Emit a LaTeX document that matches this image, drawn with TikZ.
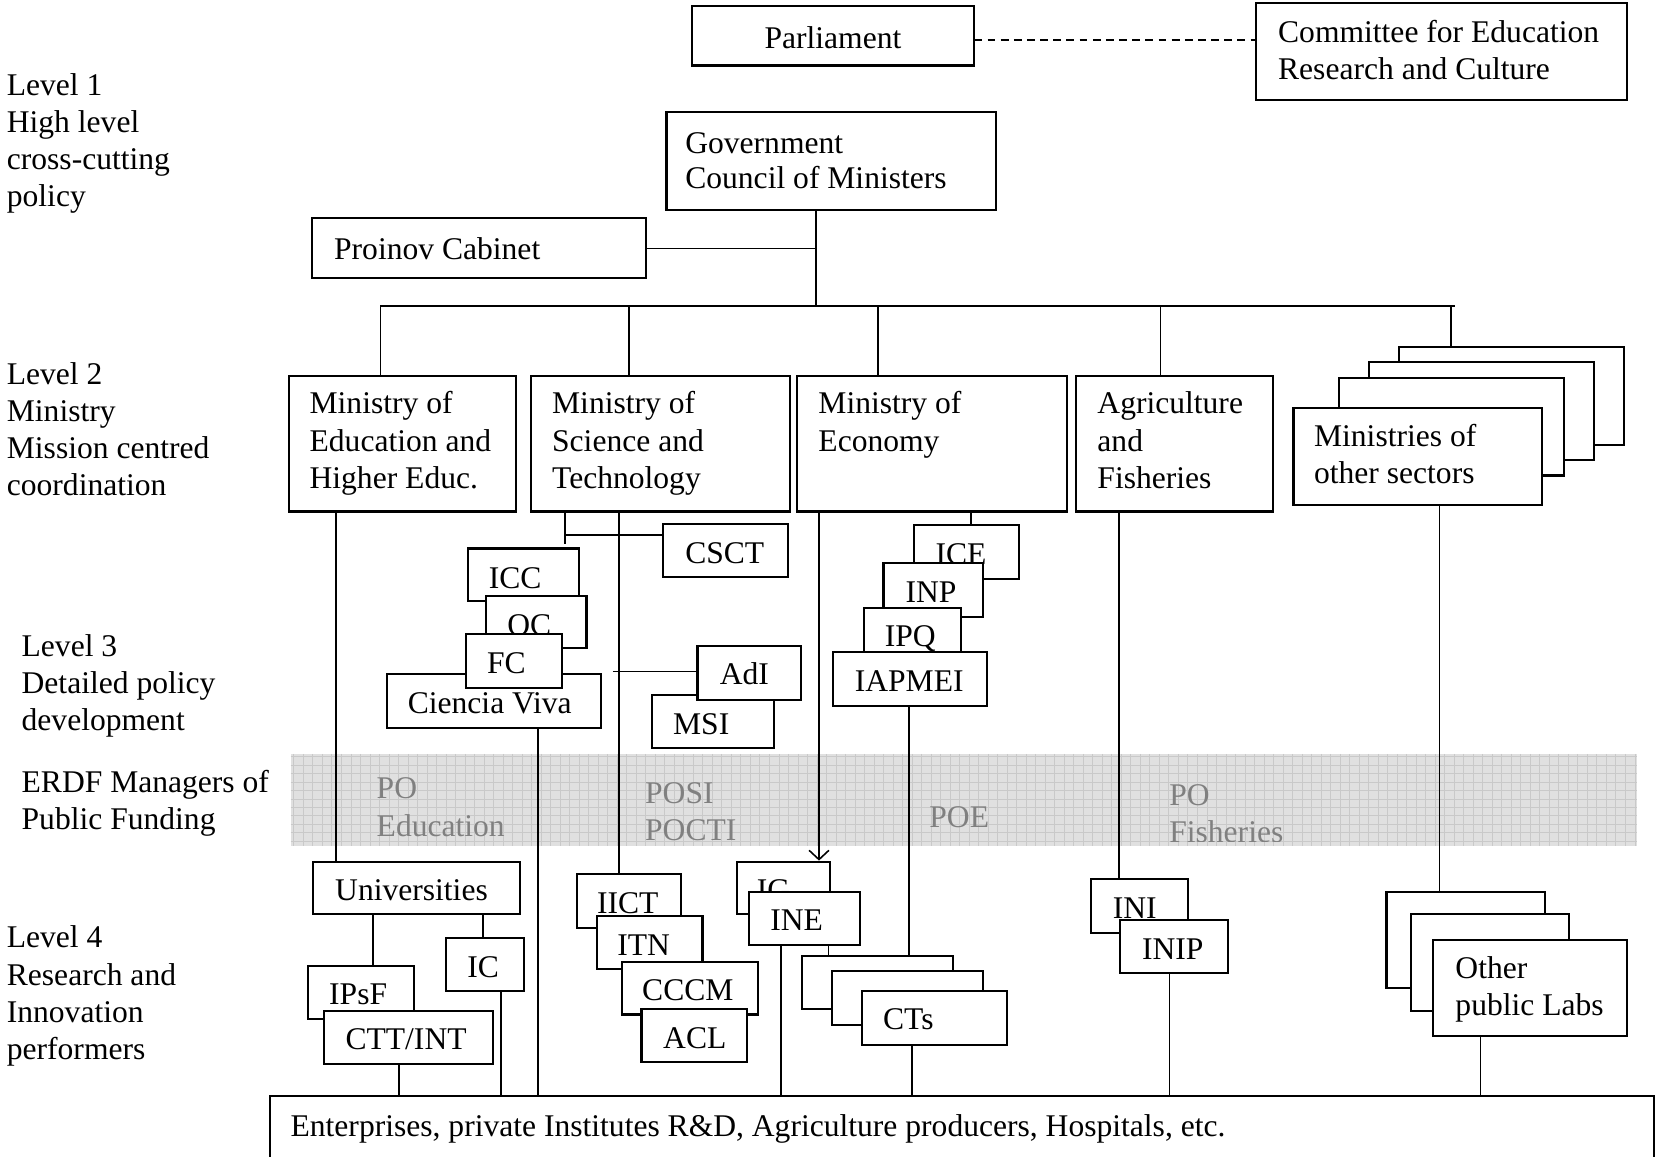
\documentclass[tikz,border=0pt]{standalone}
\usepackage{fontspec}
\setmainfont{Liberation Serif}
\usetikzlibrary{fit,arrows.meta}
\newcommand\mybox[5]{\node[box, fit={(#2,#3) (#4,#5)}] (#1) {};}
\newcommand\mytext[4]{\node[txt] (#1-t) at (#2,#3) {\mlines{#4}};}
\newcommand\mlines[1]{\begin{tabular}[t]{@{}l@{}}#1\end{tabular}}
\begin{document}
\begin{tikzpicture}[x=0.4016pt,y=-0.4016pt,
  box/.style={draw, fill=white, line width=0.8pt, inner sep=0pt},
  txt/.style={inner sep=0pt, anchor=base west, font=\fontsize{12}{14.1}\selectfont},
  tight/.style={font=\fontsize{12}{13.5}\selectfont},
  bandtxt/.style={txt, text=black!50},
  conn/.style={line width=0.6pt},
]
\clip (0,0) rectangle (1568,1094);
\fill[white] (0,0) rectangle (1568,1094);

% ---------- level labels ----------
\node[txt] (L1) at (6,90) {\mlines{Level 1\\High level\\cross-cutting\\policy}};
\node[txt] (L2) at (6,364) {\mlines{Level 2\\Ministry\\Mission centred\\coordination}};
\node[txt] (L3) at (20,621) {\mlines{Level 3\\Detailed policy\\development}};
\node[txt] (LE) at (20,750) {\mlines{ERDF Managers of\\Public Funding}};
\node[txt] (L4) at (6,897) {\mlines{Level 4\\Research and\\Innovation\\performers}};

% ---------- ERDF band ----------
\fill[black!12] (275,713.5) rectangle (1549,800.5);
\foreach \gx in {278,287,...,1548} \draw[black!21, line width=0.25pt] (\gx,713.5) -- (\gx,800.5);
\foreach \gy in {716,724,...,800} \draw[black!21, line width=0.25pt] (275,\gy) -- (1549,\gy);
\begin{scope}
\clip (275,713.5) rectangle (1549,796);
\node[bandtxt] (B1) at (356,756) {\mlines{PO\\Education}};
\node[bandtxt] (B2) at (610,760) {\mlines{POSI\\POCTI}};
\node[bandtxt] (B3) at (879,783) {POE};
\node[bandtxt] (B4) at (1106,762) {\mlines{PO\\Fisheries}};
\end{scope}

% ---------- level 1 ----------
\mybox{Parl}{655}{5.7}{922}{62} \mytext{Parl}{723}{45.7}{Parliament}
\mybox{Comm}{1188.6}{2.5}{1539.5}{94.6}
\mytext{Comm}{1209}{40}{Committee for Education\\Research and Culture}
\mybox{Gov}{630.7}{105.7}{942.5}{198.7}
\node[txt, tight] (Gov-t) at (648,145) {\mlines{Government\\Council of Ministers}};
\mybox{Pro}{295.3}{206.6}{611}{263.4} \mytext{Pro}{315.7}{246}{Proinov Cabinet}

% ---------- level 2 ----------
\mybox{MinEdu}{273.5}{355.5}{488}{484} \mytext{MinEdu}{292.5}{391.7}{Ministry of\\Education and\\Higher Educ.}
\mybox{MinSci}{502.5}{355.5}{747.3}{484} \mytext{MinSci}{522}{391.7}{Ministry of\\Science and\\Technology}
\mybox{MinEco}{754}{355.5}{1009.4}{484} \mytext{MinEco}{774}{391.7}{Ministry of\\Economy}
\mybox{MinAgr}{1018}{355.5}{1205}{484} \mytext{MinAgr}{1038}{391.7}{Agriculture\\and\\Fisheries}
\mybox{Oth4}{1324}{328.4}{1536.8}{421}
\mybox{Oth3}{1295.4}{342.8}{1508}{435.3}
\mybox{Oth2}{1267}{357.4}{1480}{450}
\mybox{Oth1}{1224}{386}{1459}{478} \mytext{Oth1}{1243}{422.7}{Ministries of\\other sectors}

% ---------- level 3 ----------
\mybox{CSCT}{627}{496}{746}{546} \mytext{CSCT}{648}{533}{CSCT}
\mybox{ICC}{443}{519}{548}{569} \mytext{ICC}{462}{556.7}{ICC}
\mybox{OC}{460}{564}{555}{613} \mytext{OC}{479.5}{600.9}{OC}
\mybox{CV}{366}{637.5}{568.7}{688.6} \mytext{CV}{385.4}{675}{Ciencia Viva}
\mybox{FC}{441}{600}{532}{651} \mytext{FC}{460.5}{637}{FC}
\mybox{MSI}{617}{658}{732}{708} \mytext{MSI}{636.5}{694.9}{MSI}
\mybox{AdI}{660}{611}{758}{662} \mytext{AdI}{680.7}{648.2}{AdI}
\mybox{ICE}{865}{497}{964}{548} \mytext{ICE}{884.8}{534.6}{ICE}
\mybox{INP}{836}{533}{930}{584} \mytext{INP}{856.4}{570.3}{INP}
\mybox{IPQ}{817.6}{575}{909}{617} \mytext{IPQ}{836.8}{611.9}{IPQ}
\mybox{IAPMEI}{788}{617}{934}{668} \mytext{IAPMEI}{808.4}{654.5}{IAPMEI}

% ---------- level 4 ----------
\mybox{Univ}{296.5}{815.4}{492}{865.2} \mytext{Univ}{316.7}{852.3}{Universities}
\mybox{IPsF}{291.4}{913.8}{391.8}{964.3} \mytext{IPsF}{311}{951}{IPsF}
\mybox{CTT}{307}{957}{466.7}{1007} \mytext{CTT}{326.5}{993.6}{CTT/INT}
\mybox{IC}{422}{887.3}{495.7}{938} \mytext{IC}{441.7}{924.8}{IC}
\mybox{IICT}{546}{827.4}{644}{877.8} \mytext{IICT}{564.5}{864.9}{IICT}
\mybox{ITN}{564.8}{866.8}{664.8}{917.3} \mytext{ITN}{583.6}{904.6}{ITN}
\mybox{CCCM}{588.3}{910}{717.3}{960} \mytext{CCCM}{607.2}{946.3}{CCCM}
\mybox{ACL}{607}{954.5}{707}{1005} \mytext{ACL}{627.1}{992}{ACL}
\mybox{IG}{697}{815.4}{785.4}{865.2} \mytext{IG}{715.8}{852.3}{IG}
\mybox{INE}{708.7}{843.8}{813.5}{894} \mytext{INE}{728.5}{880.6}{INE}
\mybox{CTsA}{758.6}{904.6}{901.5}{955}
\mybox{CTsB}{787.3}{919}{930.5}{969.6}
\mybox{CTs}{815.4}{937.7}{952.6}{988.5} \mytext{CTs}{835.2}{974.6}{CTs}
\mybox{INI}{1032}{832}{1124.5}{882.6} \mytext{INI}{1052.5}{869}{INI}
\mybox{INIP}{1060}{870.6}{1162}{921} \mytext{INIP}{1080.3}{907.8}{INIP}
\mybox{Lab1}{1312}{843.8}{1462}{935.2}
\mybox{Lab2}{1335}{864.6}{1484.7}{956.4}
\mybox{Labs}{1356.3}{889.2}{1540}{980.3} \mytext{Labs}{1376.8}{925.7}{Other\\public Labs}
\mybox{Ent}{255.2}{1037}{1565}{1120} \mytext{Ent}{274.5}{1075.6}{Enterprises, private Institutes R\&D, Agriculture producers, Hospitals, etc.}

% ---------- connectors ----------
\coordinate (pc) at (922,37.8);
\draw[conn, dash pattern=on 3pt off 2pt] (pc) -- (pc -| Comm.west);
\coordinate (xG) at (772,0);
\coordinate (busY) at (0,289.5);
\draw[conn] (xG |- Gov.south) -- (xG |- busY);
\draw[conn] (Pro.east) -- (Pro.east -| xG);
\coordinate (xB1) at (360,0);
\coordinate (xB2) at (595,0);
\coordinate (xB3) at (831,0);
\coordinate (xB4) at (1098,0);
\coordinate (xB5) at (1373,0);
\coordinate (xBR) at (1376.5,0);
\draw[conn] (xB1 |- busY) -- (xBR |- busY);
\draw[conn] (xB1 |- busY) -- (xB1 |- MinEdu.north);
\draw[conn] (xB2 |- busY) -- (xB2 |- MinSci.north);
\draw[conn] (xB3 |- busY) -- (xB3 |- MinEco.north);
\draw[conn] (xB4 |- busY) -- (xB4 |- MinAgr.north);
\draw[conn] (xB5 |- busY) -- (xB5 |- Oth4.north);

\coordinate (xE) at (318,0);
\draw[conn] (xE |- MinEdu.south) -- (xE |- Univ.north);
\coordinate (xS1) at (534.5,0);
\coordinate (sA) at (534.5,506);
\coordinate (sEnd) at (534.5,515);
\draw[conn] (xS1 |- MinSci.south) -- (sEnd);
\draw[conn] (sA) -- (sA -| CSCT.west);
\coordinate (xS2) at (586,0);
\draw[conn] (xS2 |- MinSci.south) -- (xS2 |- IICT.north);
\coordinate (adA) at (580,635.6);
\draw[conn] (adA) -- (adA -| AdI.west);
\coordinate (xCV) at (509,0);
\draw[conn] (xCV |- CV.south) -- (xCV |- Ent.north);
\coordinate (xC1) at (775,0);
\draw[conn, -{Straight Barb[length=3.5pt,width=7.5pt]}] (xC1 |- MinEco.south) -- (xC1 |- IG.north);
\coordinate (xC2) at (919,0);
\draw[conn] (xC2 |- MinEco.south) -- (xC2 |- ICE.north);
\coordinate (xC3) at (860,0);
\draw[conn] (xC3 |- IAPMEI.south) -- (xC3 |- CTsA.north);
\coordinate (xA) at (1059,0);
\draw[conn] (xA |- MinAgr.south) -- (xA |- INI.north);
\coordinate (xO) at (1362,0);
\draw[conn] (xO |- Oth1.south) -- (xO |- Lab1.north);

\coordinate (xU1) at (353,0);
\draw[conn] (xU1 |- Univ.south) -- (xU1 |- IPsF.north);
\coordinate (xU2) at (457,0);
\draw[conn] (xU2 |- Univ.south) -- (xU2 |- IC.north);
\coordinate (xCT) at (377.6,0);
\draw[conn] (xCT |- CTT.south) -- (xCT |- Ent.north);
\coordinate (xIC) at (474,0);
\draw[conn] (xIC |- IC.south) -- (xIC |- Ent.north);
\coordinate (xINE) at (739,0);
\draw[conn] (xINE |- INE.south) -- (xINE |- Ent.north);
\coordinate (xT) at (784,0);
\draw[conn] (xT |- INE.south) -- (xT |- CTsA.north);
\coordinate (xCTs) at (863,0);
\draw[conn] (xCTs |- CTs.south) -- (xCTs |- Ent.north);
\coordinate (xINIP) at (1106.5,0);
\draw[conn] (xINIP |- INIP.south) -- (xINIP |- Ent.north);
\coordinate (xL) at (1401,0);
\draw[conn] (xL |- Labs.south) -- (xL |- Ent.north);
\end{tikzpicture}
\end{document}
